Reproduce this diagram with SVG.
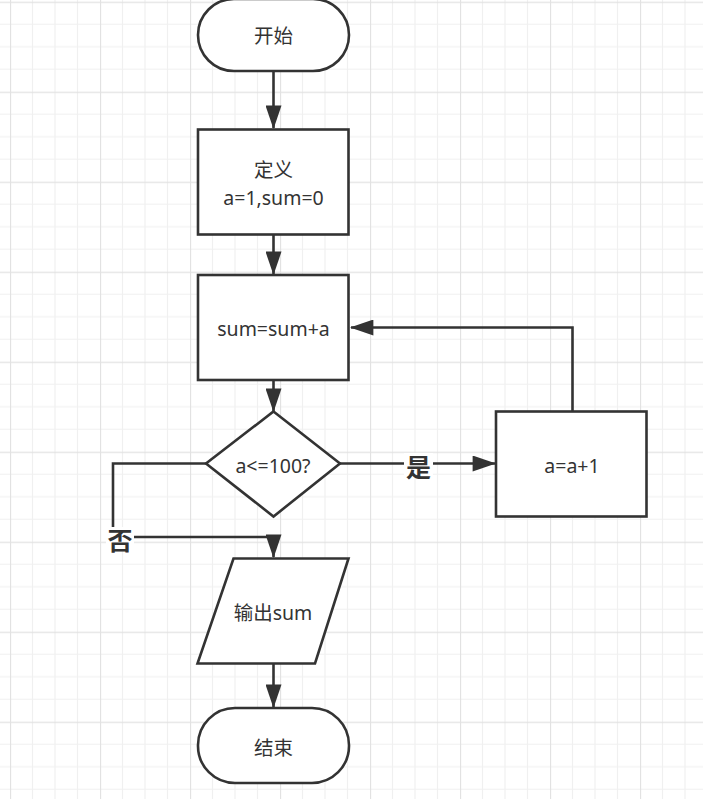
<svg xmlns="http://www.w3.org/2000/svg" width="703" height="799" viewBox="0 0 703 799">
<style>
.shape{fill:#fff;stroke:#333;stroke-width:2.6}
.edge{fill:none;stroke:#333;stroke-width:2.6}
.t{font-family:"Noto Sans","Noto Sans CJK SC",sans-serif;font-size:19.5px;fill:#333;text-anchor:middle;dominant-baseline:central}
.lbl{font-family:"Noto Sans CJK SC",sans-serif;font-size:25px;font-weight:bold;fill:#333;text-anchor:middle;dominant-baseline:central}
</style>
<defs>
<pattern id="grid" x="10" y="1.7" width="90" height="90" patternUnits="userSpaceOnUse">
<path d="M22.5 0V90M45 0V90M67.5 0V90M0 22.5H90M0 45H90M0 67.5H90" fill="none" stroke="#f0f0f0" stroke-width="1.2"/>
<path d="M0.5 0V90M0 0.5H90" fill="none" stroke="#e2e2e2" stroke-width="1.3"/>
</pattern>
<marker id="arr" markerUnits="userSpaceOnUse" markerWidth="24" markerHeight="16" viewBox="0 0 22 15" refX="21" refY="7.5" orient="auto">
<path d="M0 0L22 7.5L0 15Z" fill="#333"/>
</marker>
</defs>
<rect width="703" height="799" fill="#fff"/>
<rect width="703" height="799" fill="url(#grid)"/>
<g id="connectors">
<path class="edge" d="M273.5 71V128" marker-end="url(#arr)"/>
<path class="edge" d="M273.5 234V274" marker-end="url(#arr)"/>
<path class="edge" d="M273.5 380V411" marker-end="url(#arr)"/>
<path class="edge" d="M340 463.5H495" marker-end="url(#arr)"/>
<path class="edge" d="M572.5 411V327.5H351" marker-end="url(#arr)"/>
<path class="edge" d="M206 463.5H113V537H273.5V557" marker-end="url(#arr)"/>
<path class="edge" d="M273.5 663V707" marker-end="url(#arr)"/>
<rect x="106" y="527" width="28" height="24" fill="#fff"/>
<text class="lbl" x="120" y="539">否</text>
<rect x="404" y="453" width="29" height="25" fill="#fff"/>
<text class="lbl" x="418.5" y="465.5">是</text>
</g>
<g id="start">
<rect class="shape" x="198" y="-1" width="151" height="72" rx="36" ry="36"/>
<text class="t" x="273.5" y="35">开始</text>
</g>
<g id="define">
<rect class="shape" x="198" y="129.5" width="150.5" height="105"/>
<text class="t" x="273.5" y="169.5">定义</text>
<text class="t" x="273.5" y="197">a=1,sum=0</text>
</g>
<g id="sum">
<rect class="shape" x="198" y="275" width="150.5" height="105"/>
<text class="t" x="273.5" y="328">sum=sum+a</text>
</g>
<g id="cond">
<polygon class="shape" points="273.5,411.5 340,463.5 273.5,516.5 206,463.5"/>
<text class="t" x="273" y="465">a&lt;=100?</text>
</g>
<g id="inc">
<rect class="shape" x="496" y="411.5" width="150.5" height="105"/>
<text class="t" x="572" y="465">a=a+1</text>
</g>
<g id="output">
<polygon class="shape" points="233.5,558.5 348.5,558.5 315,663.5 197.5,663.5"/>
<text class="t" x="273" y="612">输出sum</text>
</g>
<g id="end">
<rect class="shape" x="198" y="708" width="151" height="75" rx="37" ry="37"/>
<text class="t" x="273.5" y="747">结束</text>
</g>
</svg>
